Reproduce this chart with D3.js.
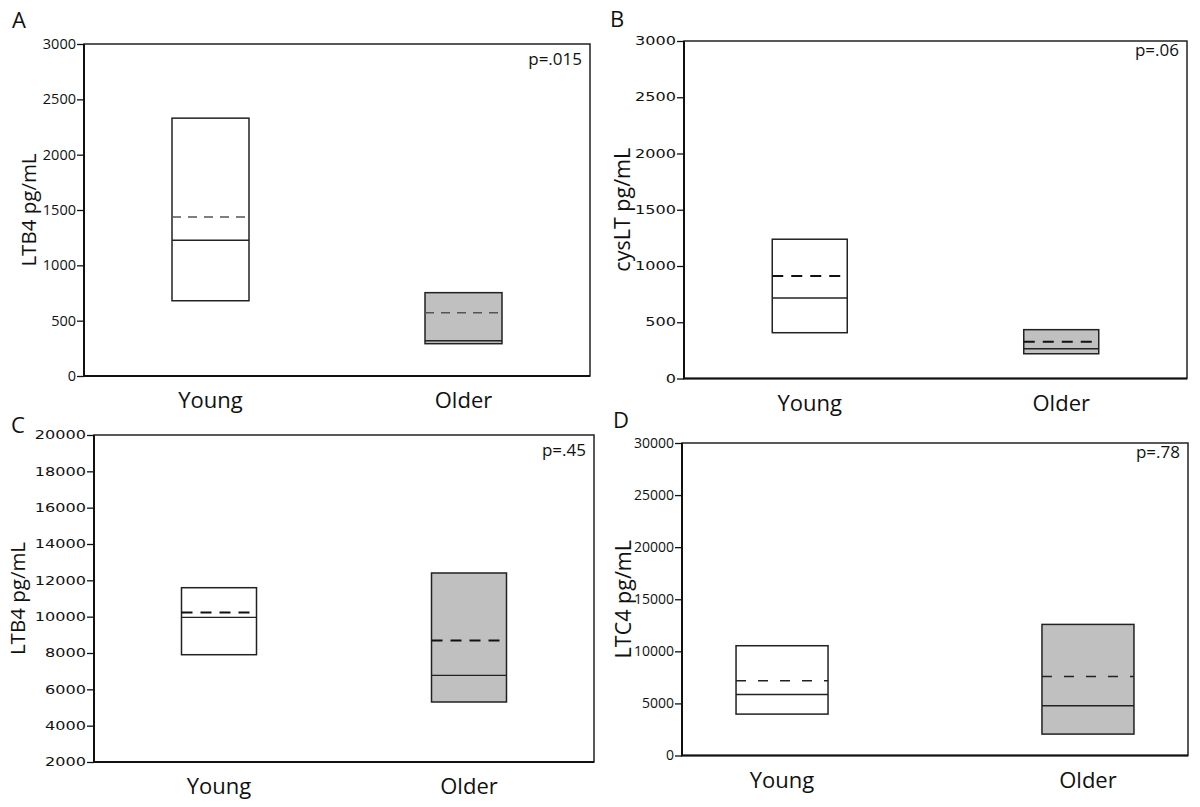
<!DOCTYPE html>
<html>
<head>
<meta charset="utf-8">
<script src="https://cdn.jsdelivr.net/npm/d3@7"></script>
<style>
  body { margin: 0; background: #fff; }
  svg text { font-family: "Open Sans", sans-serif; fill: #111; }
</style>
</head>
<body>
<svg id="chart" width="1200" height="807"></svg>
<script>
// data
const categories = ['Young', 'Older'];

const ltb4Q1 = [680, 292];
const ltb4Median = [1226, 319];
const ltb4Mean = [1437, 572];
const ltb4Q3 = [2330, 753];
const ltb4Ticks = [0, 500, 1000, 1500, 2000, 2500, 3000];

const cyslQ1 = [407, 220];
const cyslMedian = [716, 265];
const cyslMean = [912, 327];
const cyslQ3 = [1238, 434];
const cyslTicks = [0, 500, 1000, 1500, 2000, 2500, 3000];

const ltb4bQ1 = [7906, 5303];
const ltb4bMedian = [9960, 6767];
const ltb4bMean = [10235, 8694];
const ltb4bQ3 = [11594, 12404];
const ltb4bTicks = [2000, 4000, 6000, 8000, 10000, 12000, 14000, 16000, 18000, 20000];

const ltc4Q1 = [3975, 2056];
const ltc4Median = [5860, 4774];
const ltc4Mean = [7176, 7589];
const ltc4Q3 = [10538, 12584];
const ltc4Ticks = [0, 5000, 10000, 15000, 20000, 25000, 30000];

const fills = ['#ffffff', '#c0c0c0'];

const panels = [
    { letter: 'A', title: 'LTB4 pg/mL', p: 'p=.015', q1: ltb4Q1, med: ltb4Median, mean: ltb4Mean, q3: ltb4Q3, ticks: ltb4Ticks,
      box: { l: 84, r: 590, t: 44, b: 376 }, pad: 0.5, boxW: 77, wide: false, tickFs: 14.5,
      dash: { color: '#555', w: 1.4, arr: '9,7' }, pDy: 21, titleX: 29, titleFs: 20.5 },
    { letter: 'B', title: 'cysLT pg/mL', p: 'p=.06', q1: cyslQ1, med: cyslMedian, mean: cyslMean, q3: cyslQ3, ticks: cyslTicks,
      box: { l: 684, r: 1187, t: 41, b: 378.5 }, pad: 0.5, boxW: 75, wide: true, tickFs: 11.5,
      dash: { color: '#111', w: 2, arr: '11,8' }, pDy: 15, titleX: 622, titleFs: 21.5 },
    { letter: 'C', title: 'LTB4 pg/mL', p: 'p=.45', q1: ltb4bQ1, med: ltb4bMedian, mean: ltb4bMean, q3: ltb4bQ3, ticks: ltb4bTicks,
      box: { l: 94, r: 594, t: 435, b: 762 }, pad: 0.5, boxW: 75, wide: true, tickFs: 11.5,
      dash: { color: '#111', w: 2, arr: '11,8' }, pDy: 21, titleX: 18, titleFs: 20.5 },
    { letter: 'D', title: 'LTC4 pg/mL', p: 'p=.78', q1: ltc4Q1, med: ltc4Median, mean: ltc4Mean, q3: ltc4Q3, ticks: ltc4Ticks,
      box: { l: 682, r: 1188, t: 443, b: 755.5 }, pad: 0.327, boxW: 92, wide: false, tickFs: 14,
      dash: { color: '#222', w: 1.5, arr: '10,12' }, pDy: 15, titleX: 623, titleFs: 21.5 }
];

const letterPos = { A: [12, 28], B: [610, 27], C: [11, 433], D: [613, 428] };

const svg = d3.select('#chart');

panels.forEach(pn => {
    const b = pn.box;
    const g = svg.append('g');

    const x = d3.scalePoint().domain(categories).range([b.l, b.r]).padding(pn.pad);
    const y = d3.scaleLinear()
        .domain([pn.ticks[0], pn.ticks[pn.ticks.length - 1]])
        .range([b.b, b.t]);

    // y axis
    const ax = g.append('g')
        .attr('transform', `translate(${b.l},0)`)
        .call(d3.axisLeft(y).tickValues(pn.ticks).tickSize(7).tickPadding(1).tickFormat(d3.format('d')));
    ax.select('.domain').remove();
    ax.selectAll('.tick line').attr('stroke', '#111').attr('stroke-width', 1.3);
    ax.selectAll('.tick text')
        .attr('fill', '#111')
        .style('font-size', pn.tickFs + 'px')
        .style('font-family', pn.wide ? '"DejaVu Sans", sans-serif' : '"Open Sans", sans-serif');
    if (pn.wide) {
        ax.selectAll('.tick text')
            .attr('x', -8 / 1.4)
            .attr('transform', 'scale(1.4,1)');
    }

    // boxes
    const boxes = g.selectAll('.box')
        .data(categories.map((c, i) => ({ c, i, q1: pn.q1[i], q3: pn.q3[i], med: pn.med[i], mean: pn.mean[i] })))
        .enter().append('g');

    boxes.append('rect')
        .attr('x', d => x(d.c) - pn.boxW / 2)
        .attr('y', d => y(d.q3))
        .attr('width', pn.boxW)
        .attr('height', d => y(d.q1) - y(d.q3))
        .attr('fill', d => fills[d.i])
        .attr('stroke', '#222')
        .attr('stroke-width', 1.5);

    boxes.append('line')
        .attr('x1', d => x(d.c) - pn.boxW / 2)
        .attr('x2', d => x(d.c) + pn.boxW / 2)
        .attr('y1', d => y(d.med))
        .attr('y2', d => y(d.med))
        .attr('stroke', '#222')
        .attr('stroke-width', 1.4);

    boxes.append('line')
        .attr('x1', d => x(d.c) - pn.boxW / 2)
        .attr('x2', d => x(d.c) + pn.boxW / 2)
        .attr('y1', d => y(d.mean))
        .attr('y2', d => y(d.mean))
        .attr('stroke', pn.dash.color)
        .attr('stroke-width', pn.dash.w)
        .attr('stroke-dasharray', pn.dash.arr);

    // frame
    g.append('rect')
        .attr('x', b.l).attr('y', b.t)
        .attr('width', b.r - b.l).attr('height', b.b - b.t)
        .attr('fill', 'none').attr('stroke', '#222').attr('stroke-width', 1.5);
    g.append('path')
        .attr('d', `M${b.l},${b.t}V${b.b}H${b.r}`)
        .attr('fill', 'none').attr('stroke', '#111').attr('stroke-width', 2);

    // category labels
    g.selectAll('.cat')
        .data(categories)
        .enter().append('text')
        .attr('x', d => x(d))
        .attr('y', b.b + 32)
        .attr('text-anchor', 'middle')
        .style('font-size', '22px')
        .text(d => d);

    // p value
    g.append('text')
        .attr('x', b.r - 8)
        .attr('y', b.t + pn.pDy)
        .attr('text-anchor', 'end')
        .style('font-size', '17px')
        .text(pn.p);

    // axis title
    g.append('text')
        .attr('transform', `translate(${pn.titleX},${(b.t + b.b) / 2}) rotate(-90)`)
        .attr('text-anchor', 'middle')
        .attr('dy', '0.35em')
        .style('font-size', pn.titleFs + 'px')
        .text(pn.title);

    // panel letter
    g.append('text')
        .attr('x', letterPos[pn.letter][0])
        .attr('y', letterPos[pn.letter][1])
        .style('font-size', '22px')
        .text(pn.letter);
});
</script>
</body>
</html>
